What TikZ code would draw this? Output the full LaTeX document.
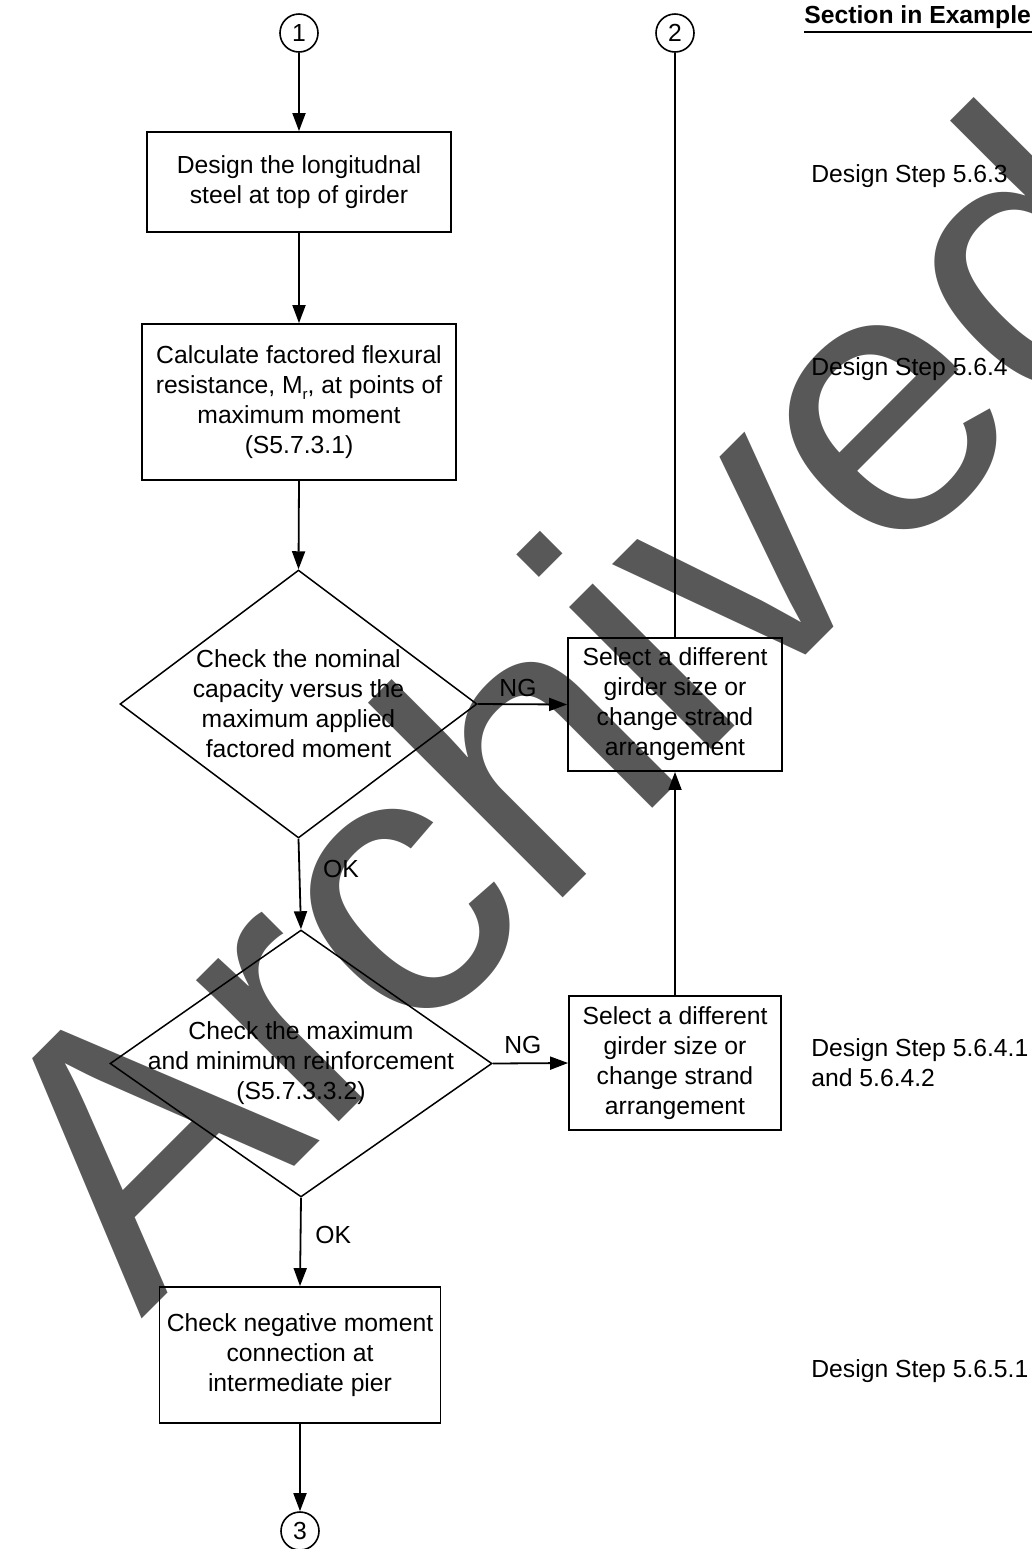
\documentclass[tikz,border=0pt]{standalone}
\usepackage{fontspec}
\setmainfont{Liberation Sans}
\usetikzlibrary{shapes.geometric, arrows.meta}
\definecolor{wmgray}{RGB}{88,88,88}
\newcommand{\bodyfont}{\fontsize{12.35}{15}\selectfont}
\tikzset{
  stepbox/.style={draw, line width=0.9pt, rectangle, inner sep=0pt, align=center, font=\bodyfont},
  decision/.style={draw, line width=0.75pt, diamond, inner sep=0pt},
  body/.style={align=center, inner sep=0pt, font=\bodyfont},
  connector/.style={circle, draw, line width=0.8pt, minimum size=19pt, inner sep=0pt, font=\bodyfont},
  arr/.style={line width=0.9pt, -{Triangle[length=9pt,width=6.5pt]}},
  wire/.style={line width=0.9pt},
  lbl/.style={inner sep=0pt, font=\bodyfont},
  note/.style={inner sep=0pt, align=left, font=\bodyfont},
  wmark/.style={inner sep=0pt, text=wmgray, font=\fontsize{190}{190}\selectfont},
}
\begin{document}
\begin{tikzpicture}[x=0.5pt,y=-0.5pt]
\useasboundingbox (0,0) rectangle (1032,1549);

% watermark behind the chart
\begin{scope}
  \clip (0,0) rectangle (1032,1549);
  \node[wmark, rotate=45, anchor=base west] (wm) at (141,1320) {Archived};
\end{scope}

% off-page connectors
\node[connector] (c1) at (299,33) {1};
\node[connector] (c2) at (675,33) {2};
\node[connector] (c3) at (300,1531) {3};

% process boxes
\node[stepbox, minimum width=152pt, minimum height=50pt] (b1) at (299,182)
  {Design the longitudnal\\steel at top of girder};
\node[stepbox, minimum width=157pt, minimum height=78pt] (b2) at (299,402)
  {Calculate factored flexural\\resistance, M\raisebox{-0.45ex}{\fontsize{7.5}{8}\selectfont r}, at points of\\maximum moment\\(S5.7.3.1)};
\node[stepbox, minimum width=140.5pt, minimum height=68pt] (b3) at (300,1355)
  {Check negative moment\\connection at\\intermediate pier};
\node[stepbox, minimum width=107pt, minimum height=66.5pt] (r1) at (675,704.5)
  {Select a different\\girder size or\\change strand\\arrangement};
\node[stepbox, minimum width=106pt, minimum height=67pt] (r2) at (675,1063)
  {Select a different\\girder size or\\change strand\\arrangement};

% decisions
\node[decision, minimum width=178.5pt, minimum height=134pt] (d1) at (298.5,704) {};
\node[body] (d1t) at (d1.center)
  {Check the nominal\\capacity versus the\\maximum applied\\factored moment};
\node[decision, minimum width=191pt, minimum height=133.5pt] (d2) at (301,1063.5) {};
\node[body] (d2t) at (d2.center)
  {Check the maximum\\and minimum reinforcement\\(S5.7.3.3.2)};

% section references
\node[inner sep=0pt, anchor=base west, font=\bodyfont\bfseries] (hdr) at (804,23) {Section in Example};
\draw[line width=1.2pt] ([yshift=-4.5pt]hdr.base west) coordinate (ul) -- ([xshift=8pt,yshift=-4.5pt]hdr.base east);
\node[note, anchor=base west] (n1) at (811,182) {Design Step 5.6.3};
\node[note, anchor=base west] (n2) at (811,375) {Design Step 5.6.4};
\node[note, anchor=north west] (n3) at (811,1038) {Design Step 5.6.4.1\\and 5.6.4.2};
\node[note, anchor=base west] (n4) at (811,1377) {Design Step 5.6.5.1};

% flow
\draw[arr] (c1.south) -- (b1.north);
\draw[arr] (b1.south) -- (b2.north);
\draw[arr] (b2.south) -- (d1.north);
\draw[arr] (d1.south) -- node[lbl, pos=0.33, anchor=west, xshift=11.5pt] (ok1) {OK} (d2.north);
\draw[arr] (d2.south) -- node[lbl, pos=0.42, anchor=west, xshift=7pt] (ok2) {OK} (b3.north);
\draw[arr] (b3.south) -- (c3.north);
\draw[arr] (d1.east) -- node[lbl, pos=0.45, above, yshift=3.5pt] (ng1) {NG} (r1.west);
\draw[arr] (d2.east) -- node[lbl, pos=0.4, above, yshift=4.25pt] (ng2) {NG} (r2.west);
\draw[arr] (r2.north) -- (r1.south);
\draw[wire] (c2.south) -- (r1.north);
\end{tikzpicture}
\end{document}
